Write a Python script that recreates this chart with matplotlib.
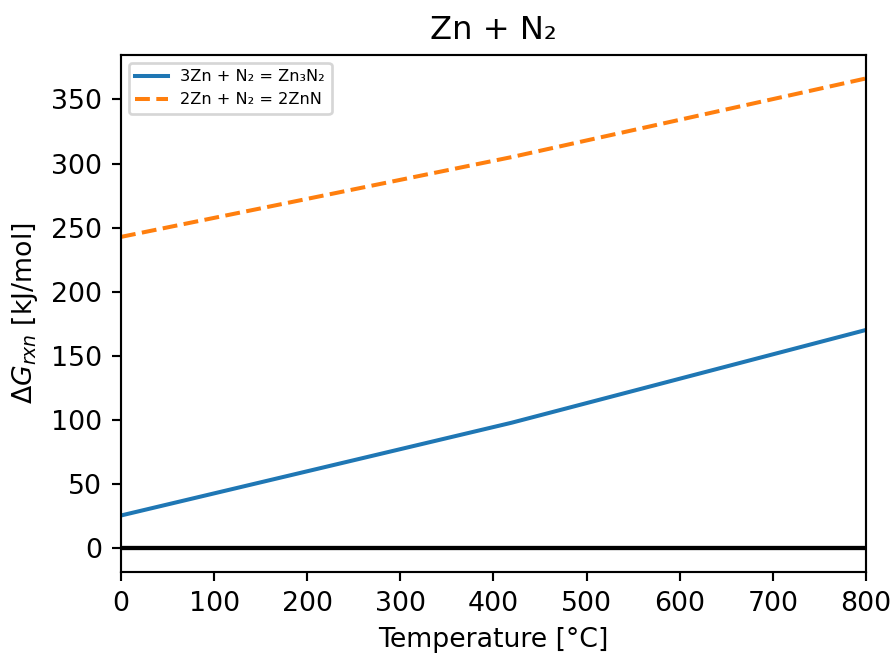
import numpy as np
import matplotlib
matplotlib.use('Agg')
import matplotlib.pyplot as plt

# Temperature points (Zn melts around 419.5 C -> slope change)
temps = [0, 419.5, 800]
dg_zn3n2 = [25.7, 98.0, 170.3]
dg_znn = [242.8, 305.0, 366.3]

dpi = 193
fig = plt.figure(figsize=(896 / dpi, 657 / dpi), dpi=dpi)
ax = fig.add_axes([0.135, 0.1294, 0.8315, 0.787])

ax.plot(temps, dg_zn3n2, label='3Zn + N₂ = Zn₃N₂')
ax.plot(temps, dg_znn, '--', label='2Zn + N₂ = 2ZnN')
ax.axhline(0, color='k', linewidth=1.6)

ax.set_xlim(0, 800)
ax.set_title('Zn + N₂')
ax.set_xlabel('Temperature [°C]')
ax.set_ylabel(r'$\Delta G_{rxn}$ [kJ/mol]')
ax.legend(loc='upper left', fontsize=6)

fig.savefig('out.png', dpi=dpi)
